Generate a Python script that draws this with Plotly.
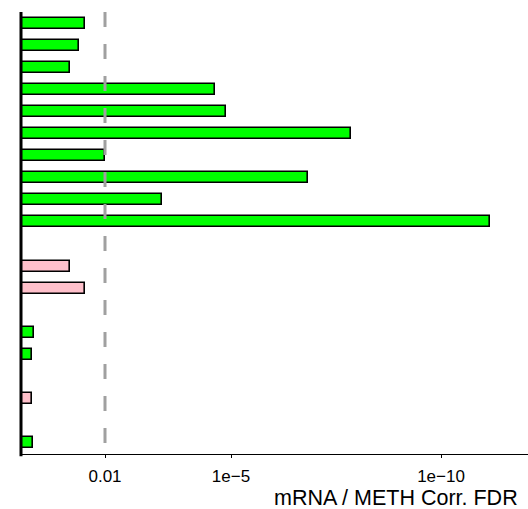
import plotly.graph_objects as go

# rows (top to bottom), -log10(FDR) values and correlation direction
rows = [1, 2, 3, 4, 5, 6, 7, 8, 9, 10, 12, 13, 15, 16, 18, 20]
neg_log10_fdr = [1.53, 1.37, 1.16, 4.62, 4.89, 7.85, 2.01, 6.83, 3.36, 11.17,
                 1.16, 1.53, 0.32, 0.27, 0.27, 0.28]
direction = ["neg", "neg", "neg", "neg", "neg", "neg", "neg", "neg", "neg", "neg",
             "pos", "pos", "neg", "neg", "pos", "neg"]
tick_vals = [2, 5, 10]
tick_text = ["0.01", "1e\u22125", "1e\u221210"]
threshold = 2
x_title = "mRNA / METH Corr. FDR"

color_map = {"neg": "#00ff00", "pos": "#ffc0cb"}
colors = [color_map[d] for d in direction]

W, H = 528, 509
ml, mr, mt = 21, 0, 12
ph = 442
mb = H - mt - ph
pw = W - ml - mr
px_per_unit = 42.0
x_max = pw / px_per_unit

fig = go.Figure()
fig.add_trace(go.Bar(
    x=neg_log10_fdr, y=rows, orientation="h", width=0.5,
    marker=dict(color=colors, line=dict(color="black", width=1.6)),
    hoverinfo="skip", showlegend=False,
))

fig.add_shape(type="line", xref="x", yref="paper", x0=threshold, x1=threshold,
              y0=1, y1=0, line=dict(color="#a0a0a0", width=3, dash="15px,17px"),
              layer="above")
fig.add_shape(type="line", xref="paper", yref="paper", x0=0, x1=0,
              y0=-0.005, y1=1, line=dict(color="black", width=3), layer="above")

fig.add_annotation(text=x_title, xref="paper", yref="paper",
                   x=(520 - ml) / pw, y=-(H + 3 - mt - ph) / ph,
                   xanchor="right", yanchor="bottom", showarrow=False,
                   font=dict(size=21.5, color="black", family="Liberation Sans, Arial, sans-serif"))

fig.update_layout(
    width=W, height=H,
    margin=dict(l=ml, r=mr, t=mt, b=mb, pad=0),
    plot_bgcolor="white", paper_bgcolor="white",
    font=dict(family="Liberation Sans, Arial, sans-serif", color="black"),
    bargap=0,
    xaxis=dict(range=[0, x_max], showgrid=False, zeroline=False,
               showline=True, linecolor="black", linewidth=1,
               tickmode="array", tickvals=tick_vals, ticktext=tick_text,
               ticks="outside", ticklen=3, tickcolor="black", tickwidth=1,
               tickfont=dict(size=17), ticklabelstandoff=4),
    yaxis=dict(range=[20.5, 0.5], showgrid=False, zeroline=False,
               showline=False, showticklabels=False, ticks=""),
)

fig.write_html(
    "out.html",
    config={"displayModeBar": False},
    post_script="document.body.style.margin='0';"
                "document.documentElement.style.overflow='hidden';"
                "document.body.style.overflow='hidden';",
)
